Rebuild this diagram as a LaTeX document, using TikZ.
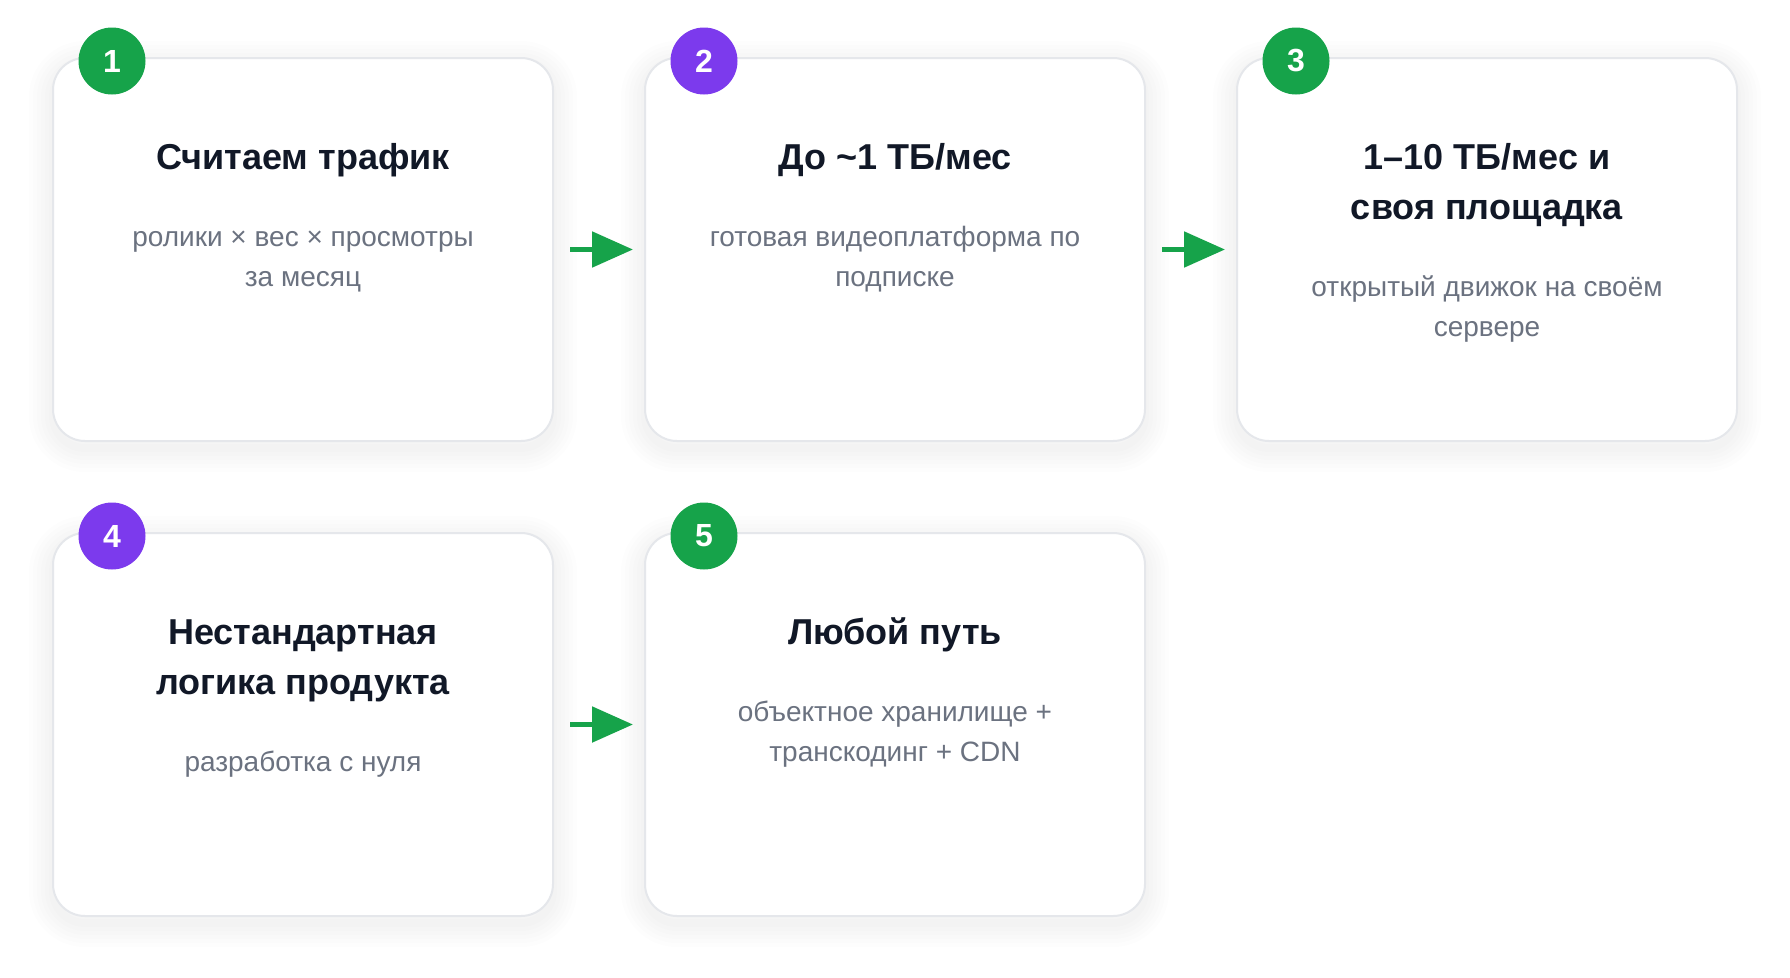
\documentclass[tikz,border=0pt]{standalone}
\usepackage{fontspec}
\setmainfont{Liberation Sans}
\usetikzlibrary{arrows.meta, positioning}
\definecolor{stepgreen}{HTML}{16A34A}
\definecolor{steppurple}{HTML}{7C3AED}
\definecolor{titleink}{HTML}{111827}
\definecolor{noteink}{HTML}{6B7280}
\definecolor{cardline}{HTML}{E5E7EB}

\begin{document}
\begin{tikzpicture}[x=1pt, y=-1pt,
    halo/.style={preaction={draw=black, draw opacity=0.009, line width=#1,
        transform canvas={yshift=-7pt}}},
    card/.style={draw=cardline, line width=2pt, fill=white, rounded corners=32pt,
        minimum width=500pt, minimum height=383pt, inner sep=0pt,
        halo=48pt, halo=40pt, halo=32pt, halo=24pt, halo=16pt, halo=8pt},
    badge/.style={circle, fill=#1, text=white, minimum size=67pt, inner sep=0pt,
        font=\fontsize{32}{32}\selectfont\bfseries},
    headline/.style={anchor=north, align=center, inner sep=0pt, text=titleink,
        font=\fontsize{36}{50}\selectfont\bfseries, execute at end node=\strut},
    note/.style={anchor=north, align=center, inner sep=0pt, text=noteink,
        font=\fontsize{28}{40}\selectfont},
    flow/.style={draw=stepgreen, line width=5.3pt, shorten <=16pt, shorten >=11pt,
        -{Triangle[length=41pt, width=35pt]}}
]
    \useasboundingbox (0,0) rectangle (1790,977);
    \fill[white] (0,0) rectangle (1790,977);

    % Cards
    \node[card] (c1) at (303, 249.5) {};
    \node[card] (c2) at (895, 249.5) {};
    \node[card] (c3) at (1487, 249.5) {};
    \node[card] (c4) at (303, 724.5) {};
    \node[card] (c5) at (895, 724.5) {};

    % Badges
    \node[badge=stepgreen] (b1) at ([xshift=60pt, yshift=-4pt]c1.north west) {1};
    \node[badge=steppurple] (b2) at ([xshift=60pt, yshift=-4pt]c2.north west) {2};
    \node[badge=stepgreen] (b3) at ([xshift=60pt, yshift=-4pt]c3.north west) {3};
    \node[badge=steppurple] (b4) at ([xshift=60pt, yshift=-4pt]c4.north west) {4};
    \node[badge=stepgreen] (b5) at ([xshift=60pt, yshift=-4pt]c5.north west) {5};

    % Titles
    \node[headline] (t1) at ([yshift=-77pt]c1.north) {\strut Считаем трафик};
    \node[headline] (t2) at ([yshift=-77pt]c2.north) {\strut До \textasciitilde1 ТБ/мес};
    \node[headline] (t3) at ([yshift=-77pt]c3.north) {\strut 1–10 ТБ/мес и\\своя площадка};
    \node[headline] (t4) at ([yshift=-77pt]c4.north) {\strut Нестандартная\\логика продукта};
    \node[headline] (t5) at ([yshift=-77pt]c5.north) {\strut Любой путь};

    % Notes
    \node[note, below=34pt of t1] (n1) {\strut ролики × вес × просмотры\\за месяц};
    \node[note, below=34pt of t2] (n2) {\strut готовая видеоплатформа по\\подписке};
    \node[note, below=34pt of t3] (n3) {\strut открытый движок на своём\\сервере};
    \node[note, below=34pt of t4] (n4) {\strut разработка с нуля};
    \node[note, below=34pt of t5] (n5) {\strut объектное хранилище +\\транскодинг + CDN};

    % Arrows
    \draw[flow] (c1) -- (c2);
    \draw[flow] (c2) -- (c3);
    \draw[flow] (c4) -- (c5);
\end{tikzpicture}
\end{document}
